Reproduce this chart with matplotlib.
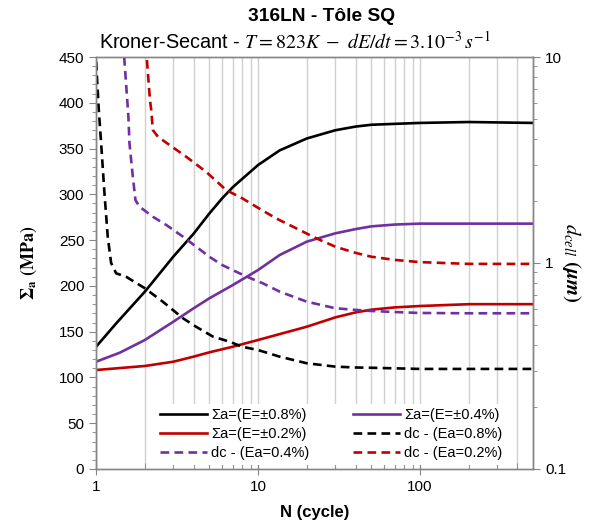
import matplotlib
matplotlib.use("Agg")
import matplotlib.pyplot as plt
from matplotlib.ticker import FixedLocator, NullFormatter, FuncFormatter
import numpy as np

plt.rcParams['font.family'] = ['Liberation Sans', 'DejaVu Sans']
plt.rcParams['mathtext.fontset'] = 'stix'

# ---- data ----
sig08_N = [1, 1.33, 2, 3, 4, 5, 6, 7, 10, 13.6, 20, 30, 40, 50, 70, 100, 200, 500]
sig08 = [133.6, 159, 193.7, 232, 257, 279, 295.6, 308, 332, 348, 361, 370, 374, 376, 377, 378, 379, 378]

sig04_N = [1, 1.4, 2, 3, 4, 5, 7, 10, 13.6, 20, 30, 40, 50, 70, 100, 200, 500]
sig04 = [117.2, 127, 140.9, 160.9, 175.5, 186.4, 201, 217.3, 233.7, 248.3, 257.4, 262, 265, 267, 268, 268, 268]

sig02_N = [1, 2, 3, 4, 5, 7, 10, 20, 30, 40, 50, 70, 100, 200, 500]
sig02 = [108.1, 112.5, 117.2, 122.7, 127.4, 133.6, 140.9, 155.4, 165.6, 171, 174, 176.5, 178, 180, 180]

dc08_N = [1.0, 1.039, 1.074, 1.126, 1.18, 1.238, 1.33, 1.53, 2.0, 2.58, 3.44, 4.15,
          5.27, 6.67, 8, 10, 13.6, 20, 30, 40, 50, 100, 200, 500]
dc08 = [9.5, 5.53, 3.81, 2.18, 1.34, 1.0, 0.891, 0.858, 0.754, 0.649, 0.539, 0.49,
        0.439, 0.415, 0.392, 0.378, 0.351, 0.326, 0.314, 0.311, 0.31, 0.306, 0.306, 0.306]

dc04_N = [1.49, 1.51, 1.583, 1.607, 1.686, 1.75, 1.853, 2.24, 2.71, 3.44, 4.15, 5, 6,
          7.69, 9, 10.7, 13.6, 20, 30, 40, 50, 70, 100, 200, 500]
dc04 = [10, 8.66, 5.13, 3.81, 2.62, 2.02, 1.877, 1.678, 1.53, 1.342, 1.2, 1.073, 0.978,
        0.891, 0.843, 0.797, 0.726, 0.649, 0.603, 0.592, 0.585, 0.578, 0.572, 0.57, 0.57]

dc02_N = [2.06, 2.15, 2.19, 2.24, 2.41, 2.84, 3.6, 4.78, 6.36, 8, 9.74, 12.9, 17.2,
          22.9, 30, 40, 50, 70, 100, 200, 500]
dc02 = [9.67, 6.2, 5.53, 4.42, 4.1, 3.74, 3.28, 2.77, 2.26, 2.06, 1.876, 1.648, 1.474,
        1.318, 1.2, 1.12, 1.073, 1.035, 1.01, 0.99, 0.99]

labels = ['Σa=(E=±0.8%)', 'Σa=(E=±0.4%)', 'Σa=(E=±0.2%)',
          'dc - (Ea=0.8%)', 'dc - (Ea=0.4%)', 'dc - (Ea=0.2%)']

BLACK = '#000000'
PURPLE = '#7030A0'
RED = '#C00000'
GRID = '#D0D0D0'
AXC = '#868686'

fig = plt.figure(figsize=(5.97, 5.26), dpi=100)
ax = fig.add_axes([0.161, 0.1084, 0.732, 0.7832])
ax2 = ax.twinx()

lw = 1.9
l1, = ax.plot(sig08_N, sig08, color=BLACK, lw=lw, label=labels[0])
l2, = ax.plot(sig04_N, sig04, color=PURPLE, lw=lw, label=labels[1])
l3, = ax.plot(sig02_N, sig02, color=RED, lw=lw, label=labels[2])
ds = (3.3, 2.0)
l4, = ax2.plot(dc08_N, dc08, color=BLACK, lw=lw, dashes=ds, label=labels[3])
l5, = ax2.plot(dc04_N, dc04, color=PURPLE, lw=lw, dashes=ds, label=labels[4])
l6, = ax2.plot(dc02_N, dc02, color=RED, lw=lw, dashes=ds, label=labels[5])

ax.set_xscale('log')
ax.set_xlim(1, 500)
ax.set_ylim(0, 450)
ax2.set_yscale('log')
ax2.set_ylim(0.1, 10)

# x ticks & grid
ax.xaxis.set_major_locator(FixedLocator([1, 10, 100]))
ax.xaxis.set_major_formatter(FuncFormatter(lambda v, p: f"{int(v)}"))
minors = [m * d for d in (1, 10, 100) for m in range(2, 10) if m * d <= 500]
ax.xaxis.set_minor_locator(FixedLocator(minors))
ax.xaxis.set_minor_formatter(NullFormatter())
ax.grid(True, which='both', axis='x', color=GRID, lw=1.0)
ax.set_axisbelow(True)

ax.yaxis.set_major_locator(FixedLocator(np.arange(0, 451, 50)))
ax.yaxis.set_minor_locator(FixedLocator(np.arange(0, 451, 10)))

ax2.yaxis.set_major_locator(FixedLocator([0.1, 1, 10]))
ax2.yaxis.set_major_formatter(FuncFormatter(lambda v, p: f"{v:g}"))
ax2.yaxis.set_minor_formatter(NullFormatter())

for a in (ax, ax2):
    for s in a.spines.values():
        s.set_color(AXC)
        s.set_linewidth(1.0)

ax.tick_params(axis='x', which='major', direction='inout', length=8, color=AXC, labelsize=11, pad=4)
ax.tick_params(axis='x', which='minor', direction='in', length=4, color=AXC)
ax.tick_params(axis='y', which='major', direction='out', length=5, color=AXC, labelsize=11)
ax.tick_params(axis='y', which='minor', direction='out', length=3, color=AXC)
ax2.tick_params(axis='y', which='major', direction='out', length=5, color=AXC, labelsize=11)
ax2.tick_params(axis='y', which='minor', direction='out', length=3, color=AXC)

ax.set_xlabel('N (cycle)', fontsize=12, fontweight='bold', labelpad=8)
ax.set_ylabel(r'$\mathbf{\Sigma_a}$ $\mathbf{(MPa)}$', fontsize=13, labelpad=14)
ax2.set_ylabel(r'$\boldsymbol{d_{cell}\ (\mu m)}$', fontsize=15, rotation=270, labelpad=12)

fig.text(0.538, 0.968, '316LN - Tôle SQ', ha='center', va='center',
         fontsize=13.8, fontweight='bold')
fig.text(0.494, 0.921,
         r'Kroner-Secant - $T = 823K\ -\ dE/dt = 3.10^{-3}\,s^{-1}$',
         ha='center', va='center', fontsize=14.3)

handles = [l1, l3, l5, l2, l4, l6]
leg = ax2.legend(handles=handles, labels=[h.get_label() for h in handles], ncol=2,
                 loc='lower left', bbox_to_anchor=(0.137, 0.01), frameon=True,
                 fontsize=10.5, handlelength=3.2, columnspacing=3.0, labelspacing=0.35,
                 handletextpad=0.3, borderpad=0.3, borderaxespad=0)
leg.get_frame().set_facecolor('white')
leg.get_frame().set_edgecolor('none')
leg.get_frame().set_alpha(1)

fig.savefig('out.png', dpi=100)
